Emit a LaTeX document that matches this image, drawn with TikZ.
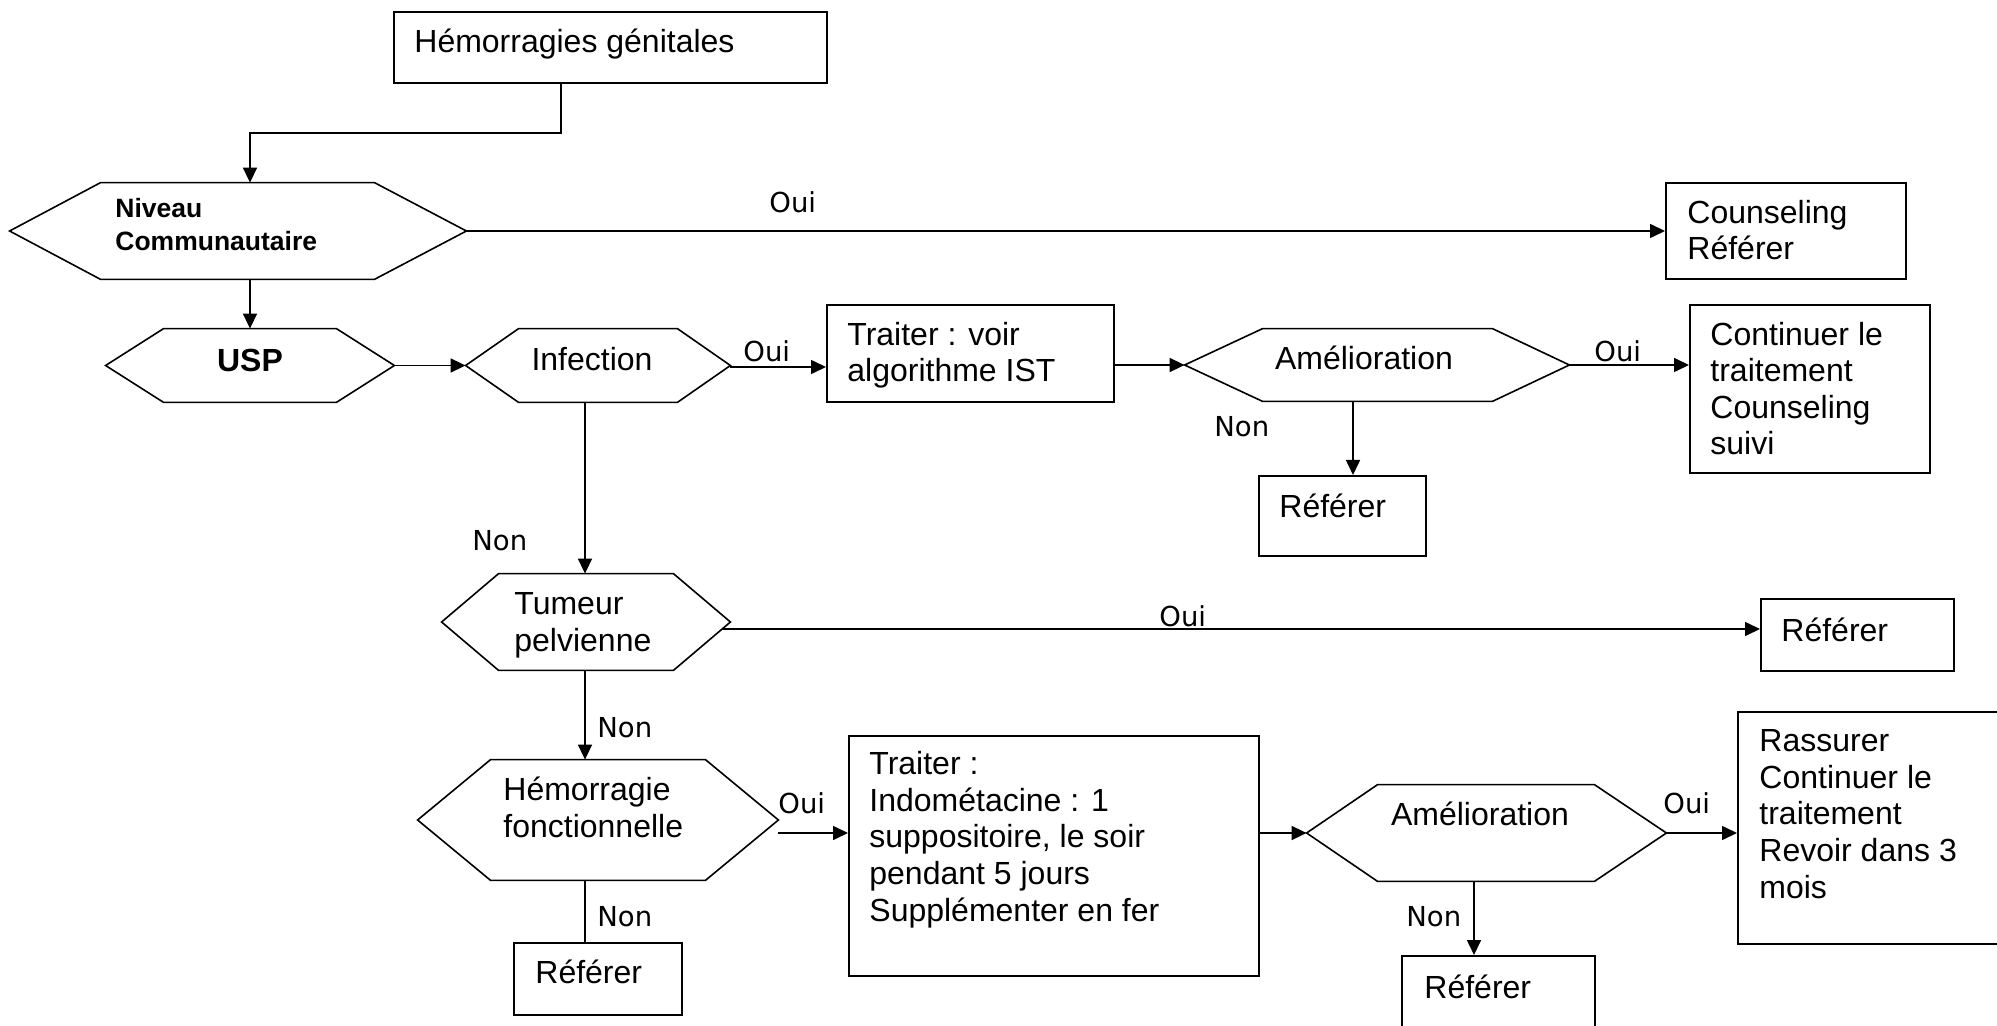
\documentclass[tikz,border=0pt]{standalone}
\usepackage{fontspec}
\setmainfont{Liberation Sans}
\newfontfamily\labfont{DejaVu Sans}
\usetikzlibrary{arrows.meta,fit}
\newcommand\hexaoutline[3]{%
  \draw[hexline] (#1.west) -- ([xshift=#2]#1.north west) -- ([xshift=-#3]#1.north east)
    -- (#1.east) -- ([xshift=-#3]#1.south east) -- ([xshift=#2]#1.south west) -- cycle;}
\begin{document}
\begin{tikzpicture}[x=0.5pt,y=-0.5pt,
  conn/.style={line width=0.8pt},
  hexline/.style={line width=0.8pt, line join=miter},
  boxst/.style={draw, line width=1pt, inner sep=0pt},
  hexst/.style={inner sep=0pt, draw=none},
  arr/.style={conn, -{Triangle[length=7.5pt,width=7pt]}},
  txt/.style={inner sep=0pt, anchor=base west, align=left, font=\fontsize{16}{18.3}\selectfont},
  ctxt/.style={txt, anchor=base},
  lab/.style={inner sep=0pt, anchor=base west, font=\labfont\fontsize{13.75}{16}\selectfont}]
\useasboundingbox (0,0) rectangle (1997,1026);
\clip (0,0) rectangle (1997,1026);

% boxes
\node[boxst, fit={(394,12) (827,83)}] (box1) {};
\node[boxst, fit={(1666,183) (1906,279)}] (counsel) {};
\node[boxst, fit={(827,305) (1114,402)}] (trait1) {};
\node[boxst, fit={(1690,305) (1930,473)}] (cont) {};
\node[boxst, fit={(1259,476) (1426,556)}] (ref1) {};
\node[boxst, fit={(1761,599) (1954,671)}] (ref2) {};
\node[boxst, fit={(514,943) (682,1015)}] (ref3) {};
\node[boxst, fit={(849,736) (1259,976)}] (trait2) {};
\node[boxst, fit={(1738,712) (2010,944)}] (rass) {};
\node[boxst, fit={(1402,956) (1595,1040)}] (ref4) {};

% hexagons
\node[hexst, fit={(10,183) (466,279)}] (niv) {};
\hexaoutline{niv}{45.5pt}{46pt}
\node[hexst, fit={(106,329) (394,402)}] (usp) {};
\hexaoutline{usp}{29pt}{29pt}
\node[hexst, fit={(466,329) (730,402)}] (inf) {};
\hexaoutline{inf}{26.5pt}{26.5pt}
\node[hexst, fit={(1185,329) (1569,401)}] (am1) {};
\hexaoutline{am1}{39pt}{38.5pt}
\node[hexst, fit={(442,574) (730,670)}] (tum) {};
\hexaoutline{tum}{28.5pt}{28.5pt}
\node[hexst, fit={(418,760) (778,880)}] (hf) {};
\hexaoutline{hf}{36.5pt}{36.5pt}
\node[hexst, fit={(1307,785) (1666,881)}] (am2) {};
\hexaoutline{am2}{35.5pt}{36pt}

% texts (anchor = baseline of the last line)
\node[txt] (tbox1) at (414,53) {Hémorragies génitales};
\node[txt, font=\bfseries\fontsize{13.25}{16.5}\selectfont] (tniv) at (115,251) {Niveau\\Communautaire};
\node[ctxt, font=\bfseries\fontsize{16}{18.3}\selectfont] (tusp) at (250,372) {USP};
\node[ctxt] (tinf) at (592,371) {Infection};
\node[txt] (ttrait1) at (847,382) {Traiter : voir\\algorithme IST};
\node[ctxt] (tam1) at (1364,370) {Amélioration};
\node[txt] (tcont) at (1710,455) {Continuer le\\traitement\\Counseling\\suivi};
\node[txt] (tcounsel) at (1687,260) {Counseling\\Référer};
\node[txt] (tref1) at (1279,517) {Référer};
\node[txt] (ttum) at (514,651) {Tumeur\\pelvienne};
\node[txt] (tref2) at (1781,641) {Référer};
\node[txt] (thf) at (503,837) {Hémorragie\\fonctionnelle};
\node[txt] (tref3) at (535,983) {Référer};
\node[txt] (ttrait2) at (869,921) {Traiter :\\Indométacine : 1\\suppositoire, le soir\\pendant 5 jours\\Supplémenter en fer};
\node[ctxt] (tam2) at (1480,825) {Amélioration};
\node[txt] (trass) at (1759,898) {Rassurer\\Continuer le\\traitement\\Revoir dans 3\\mois};
\node[txt] (tref4) at (1424,998) {Référer};

% labels
\node[lab] (l1) at (769,213) {Oui};
\node[lab] (l2) at (743,362) {Oui};
\node[lab] (l3) at (1594,362) {Oui};
\node[lab] (l4) at (1214,437) {Non};
\node[lab] (l5) at (472,550) {Non};
\node[lab] (l6) at (1159,626) {Oui};
\node[lab] (l7) at (597,737) {Non};
\node[lab] (l8) at (778,813) {Oui};
\node[lab] (l9) at (597,926) {Non};
\node[lab] (l10) at (1663,813) {Oui};
\node[lab] (l11) at (1406,926) {Non};

% connector helpers
\coordinate (bA) at (561,133);
\coordinate (bB) at (250,133);
\coordinate (xam1) at (1353,0);
\coordinate (tumout) at (722,629);
\coordinate (hfout) at (778,833);
\coordinate (xam2) at (1474,0);
\coordinate (y1) at (0,367);
\coordinate (xinf) at (585,0);

% connectors
\draw[arr] (bA |- box1.south) -- (bA) -- (bB) -- (bB |- niv.north);
\draw[arr] (niv.east) -- (counsel.west |- niv.east);
\draw[arr] (usp.north |- niv.south) -- (usp.north);
\draw[arr] (usp.east) -- (inf.west);
\draw[arr] (inf.east |- y1) -- (trait1.west |- y1);
\draw[arr] (trait1.east |- am1.west) -- (am1.west);
\draw[arr] (am1.east) -- (cont.west |- am1.east);
\draw[arr] (xam1 |- am1.south) -- (xam1 |- ref1.north);
\draw[arr] (xinf |- inf.south) -- (xinf |- tum.north);
\draw[arr] (tumout) -- (ref2.west |- tumout);
\draw[arr] (xinf |- tum.south) -- (xinf |- hf.north);
\draw[arr] (hfout) -- (trait2.west |- hfout);
\draw[conn] (xinf |- hf.south) -- (xinf |- ref3.north);
\draw[arr] (trait2.east |- am2.west) -- (am2.west);
\draw[arr] (am2.east) -- (rass.west |- am2.east);
\draw[arr] (xam2 |- am2.south) -- (xam2 |- ref4.north);
\end{tikzpicture}
\end{document}
